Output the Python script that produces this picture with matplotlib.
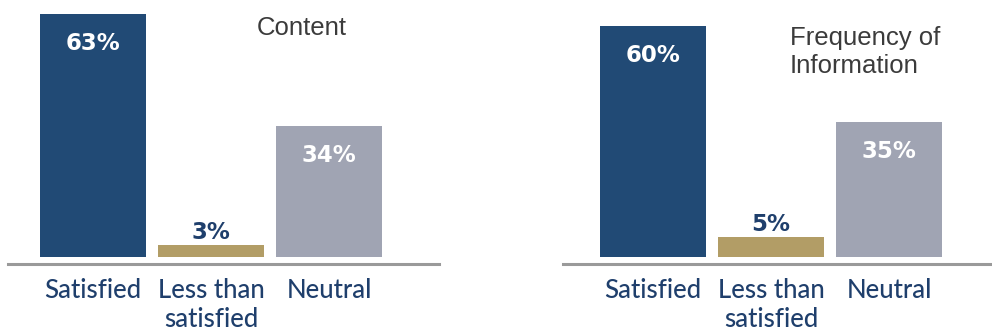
import matplotlib
matplotlib.use('Agg')
import matplotlib.pyplot as plt

categories = ['Satisfied', 'Less than\nsatisfied', 'Neutral']
content_pct = [63, 3, 34]
frequency_pct = [60, 5, 35]
titles = ['Content', 'Frequency of\nInformation']

bar_colors = ['#214a75', '#b29d66', '#a0a4b3']
navy_text = '#1f3f6c'
title_text = '#3b3b3b'
axis_grey = '#9a9a9a'

W, H = 992, 331
fig = plt.figure(figsize=(W / 100, H / 100), dpi=100)

# axes boxes in pixels: left, right, and the baseline row
axis_y = 264.3
panels = [(8, 439), (563, 992)]
bar_unit = 118.0       # px between bar centres
first_bar = [93.2, 653.0]
px_per_pct = 3.85
zero_px = 256.7

ax_bottom = 1 - axis_y / H
ax_height = axis_y / H
ymin = -(axis_y - zero_px) / px_per_pct
ymax = zero_px / px_per_pct

# left edge / baseline of last title line, in pixels from the top
title_pos = [(257, 35), (790, 73)]

for i, (vals, title) in enumerate(zip([content_pct, frequency_pct], titles)):
    x0, x1 = panels[i]
    ax = fig.add_axes([x0 / W, ax_bottom, (x1 - x0) / W, ax_height])
    ax.set_xlim((x0 - first_bar[i]) / bar_unit, (x1 - first_bar[i]) / bar_unit)
    ax.set_ylim(ymin, ymax)

    xs = list(range(len(categories)))
    ax.bar(xs, vals, width=0.9, color=bar_colors)

    for x, v in zip(xs, vals):
        if v < 10:
            ax.annotate(f'{v}%', (x, v), xytext=(0, 6), textcoords='offset pixels',
                        ha='center', va='baseline', fontsize=16.5, fontweight='bold',
                        color=navy_text, family='DejaVu Sans')
        else:
            ax.annotate(f'{v}%', (x, v), xytext=(0, -36), textcoords='offset pixels',
                        ha='center', va='baseline', fontsize=16.5, fontweight='bold',
                        color='white', family='DejaVu Sans')

    tx, ty = title_pos[i]
    ax.text((tx - first_bar[i]) / bar_unit, (zero_px - ty) / px_per_pct, title,
            ha='left', va='baseline', fontsize=18.5, color=title_text,
            family='Liberation Sans', linespacing=1.2)

    ax.set_xticks(xs)
    ax.set_xticklabels(categories, fontsize=18.5, color=navy_text, family='Lato',
                       fontweight=500, linespacing=1.2)
    ax.tick_params(axis='x', length=0, pad=10)
    ax.set_yticks([])
    for side in ['left', 'right', 'top']:
        ax.spines[side].set_visible(False)
    ax.spines['bottom'].set_color(axis_grey)
    ax.spines['bottom'].set_linewidth(2.2)

fig.savefig('out.png', dpi=100)
